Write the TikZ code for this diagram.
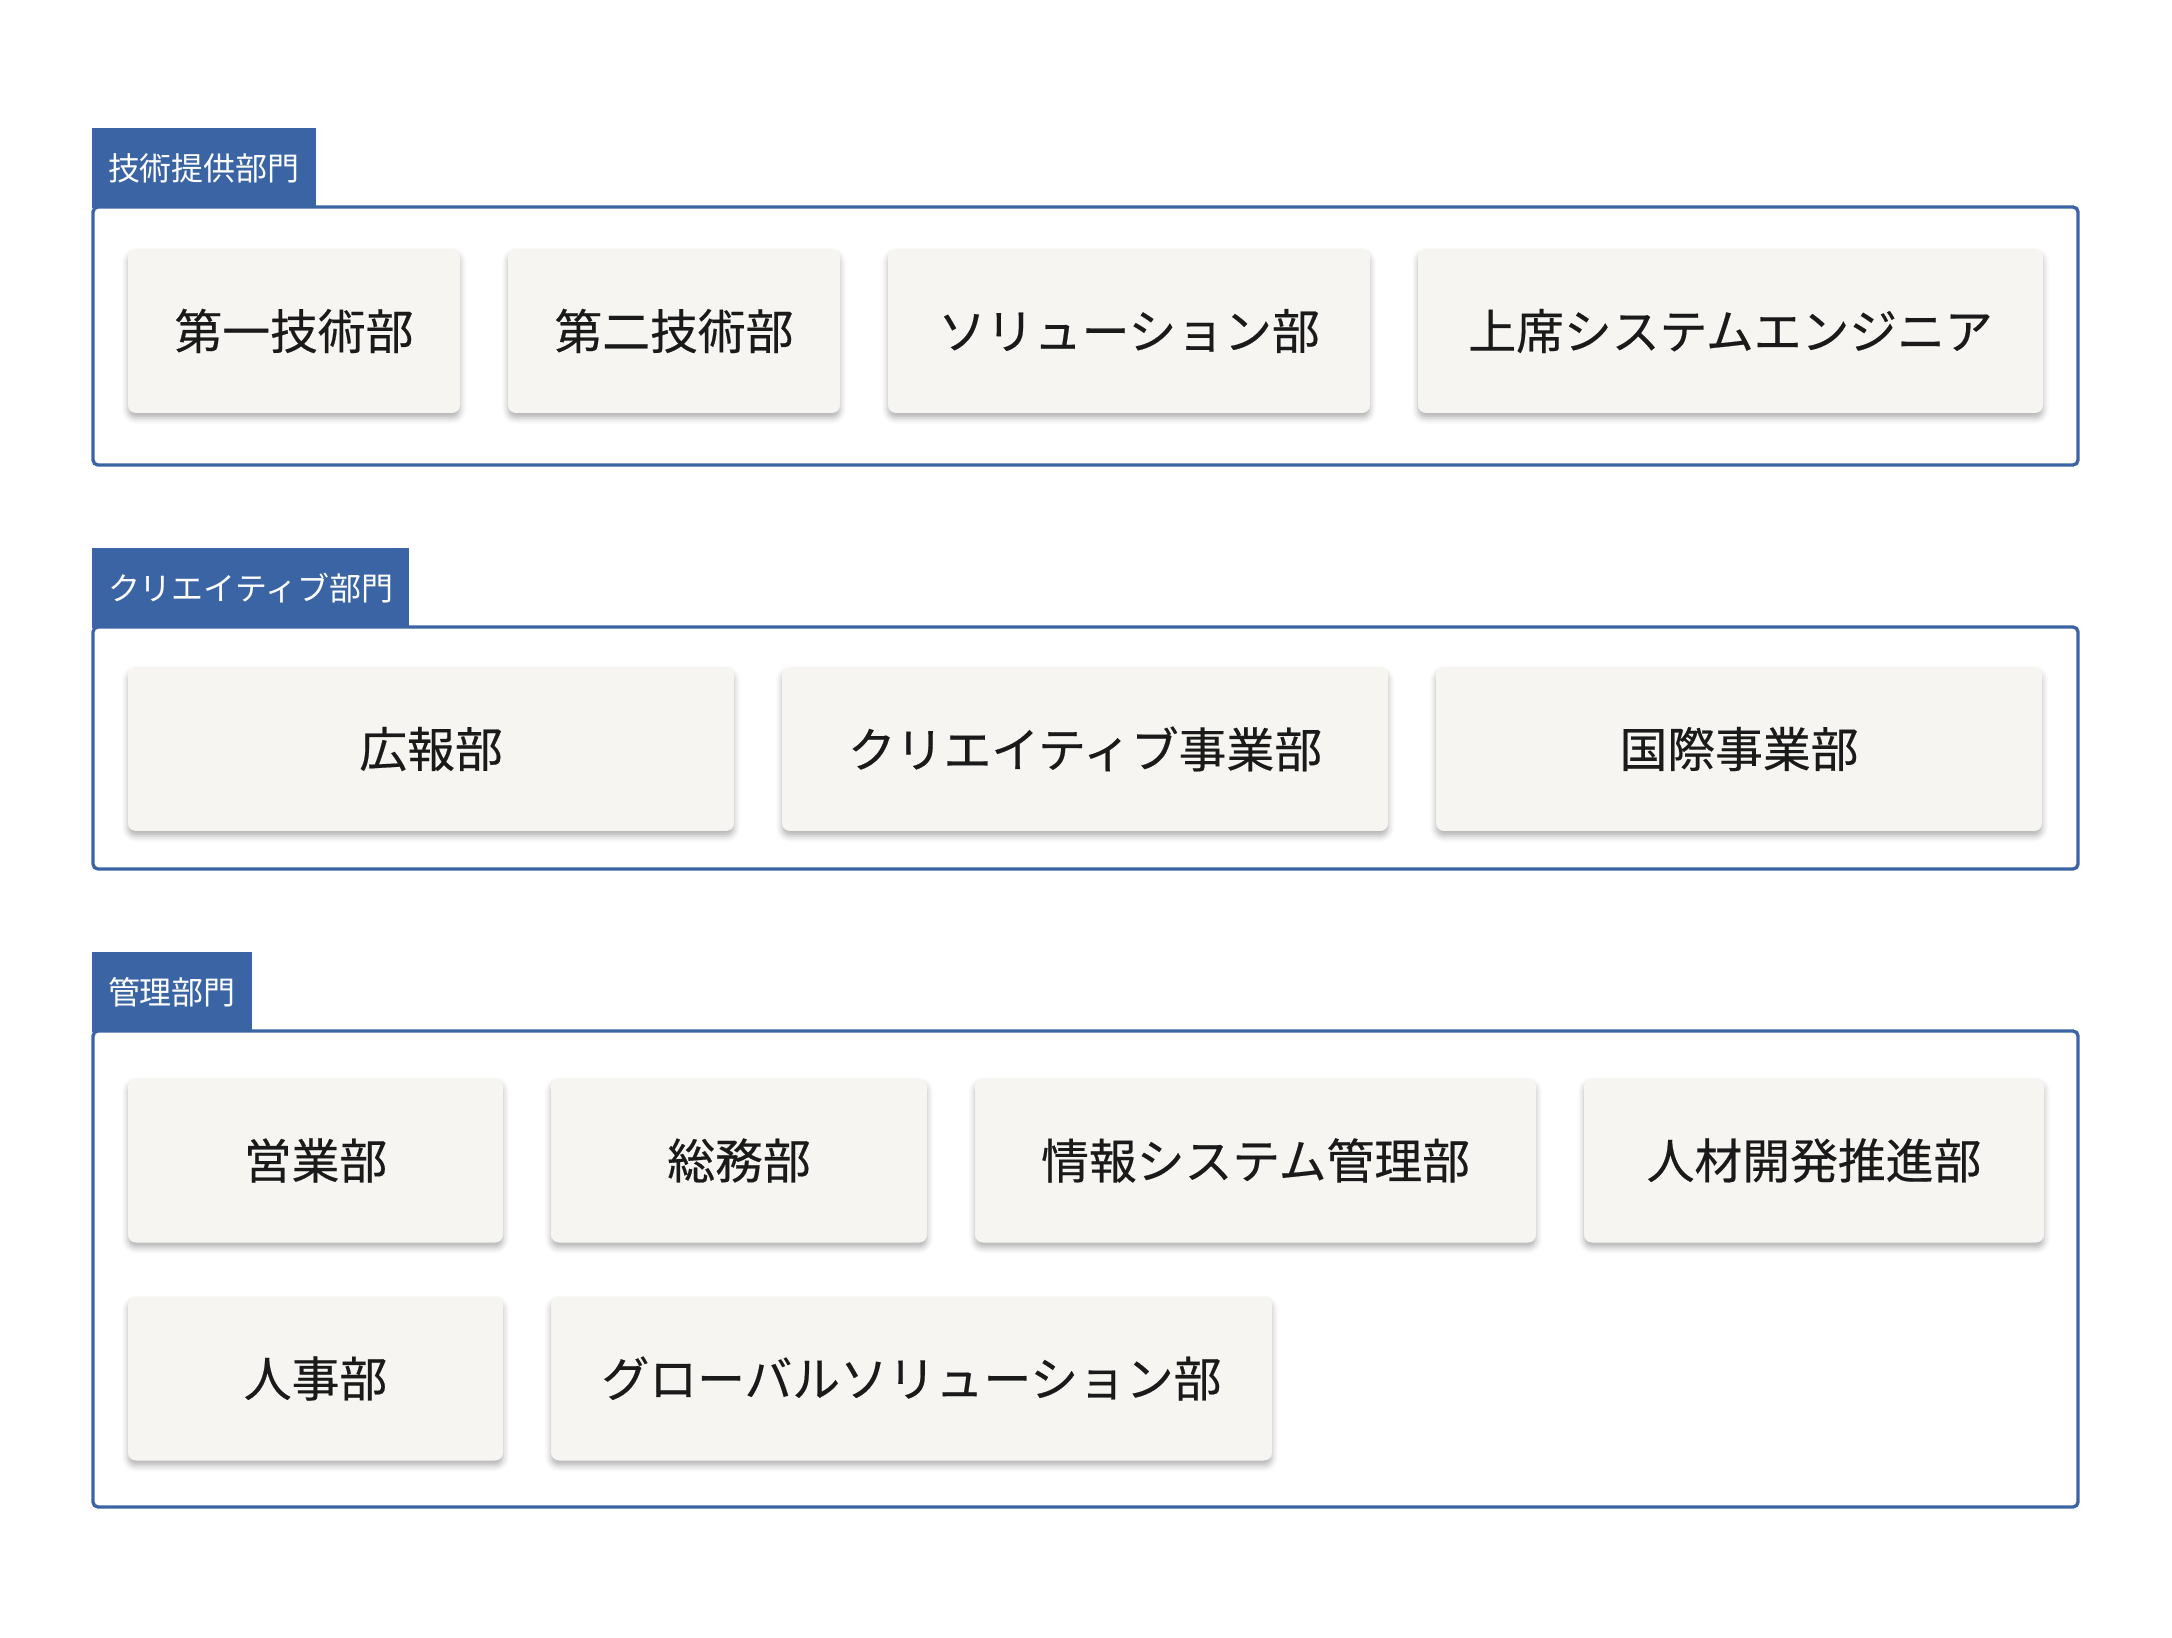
\documentclass[tikz,border=0pt]{standalone}
\usepackage{fontspec}
\usepackage[HTML]{xcolor}
\usepackage{tikz}
\usetikzlibrary{positioning, shadows.blur}
\newfontfamily\jpfont{Noto Sans CJK JP}
\newfontfamily\jpboxfont[FakeBold=0.4]{Noto Sans CJK JP}
\definecolor{deptblue}{HTML}{3A64A3}
\definecolor{deptfill}{HTML}{F6F5F1}

\begin{document}
\begin{tikzpicture}[
  deptbox/.style={rounded corners=0.08cm, fill=deptfill, minimum height=1.64cm, inner sep=0pt,
    font=\jpboxfont\fontsize{13.6pt}{16pt}\selectfont, text=black!90,
    blur shadow={shadow xshift=0cm, shadow yshift=-0.05cm, shadow blur radius=0.06cm, shadow opacity=30}},
  secframe/.style={draw=deptblue, line width=0.95pt, rounded corners=0.05cm},
  sectag/.style={fill=deptblue, text=white, anchor=south west, minimum height=0.8cm,
    inner xsep=0.16cm, inner ysep=0pt, font=\jpfont\fontsize{9.1pt}{11pt}\selectfont}
]
\useasboundingbox (0,0) rectangle (21.72,-16.38);

% frames
\draw[secframe] (0.93,-2.07) rectangle (20.78,-4.65);
\draw[secframe] (0.93,-6.27) rectangle (20.78,-8.69);
\draw[secframe] (0.93,-10.31) rectangle (20.78,-15.07);

% tags
\node[sectag] (tagtech) at (0.913,-2.087) {技術提供部門};
\node[sectag] (tagcreative) at (0.913,-6.287) {クリエイティブ部門};
\node[sectag] (tagadmin) at (0.913,-10.327) {管理部門};

% technology
\node[deptbox, minimum width=3.32cm] (tech1) at (2.94,-3.31) {第一技術部};
\node[deptbox, minimum width=3.32cm] (tech2) at (6.74,-3.31) {第二技術部};
\node[deptbox, minimum width=4.82cm] (solution) at (11.29,-3.31) {ソリューション部};
\node[deptbox, minimum width=6.25cm] (senior) at (17.305,-3.31) {上席システムエンジニア};

% creative
\node[deptbox, minimum width=6.06cm] (pr) at (4.31,-7.49) {広報部};
\node[deptbox, minimum width=6.06cm] (creative) at (10.85,-7.49) {クリエイティブ事業部};
\node[deptbox, minimum width=6.06cm] (intl) at (17.39,-7.49) {国際事業部};

% admin
\node[deptbox, minimum width=3.75cm] (sales) at (3.155,-11.605) {営業部};
\node[deptbox, minimum width=3.76cm] (general) at (7.39,-11.605) {総務部};
\node[deptbox, minimum width=5.61cm] (infosys) at (12.555,-11.605) {情報システム管理部};
\node[deptbox, minimum width=4.60cm] (talent) at (18.14,-11.605) {人材開発推進部};
\node[deptbox, minimum width=3.75cm] (hr) at (3.155,-13.785) {人事部};
\node[deptbox, minimum width=7.21cm] (global) at (9.115,-13.785) {グローバルソリューション部};
\end{tikzpicture}
\end{document}
